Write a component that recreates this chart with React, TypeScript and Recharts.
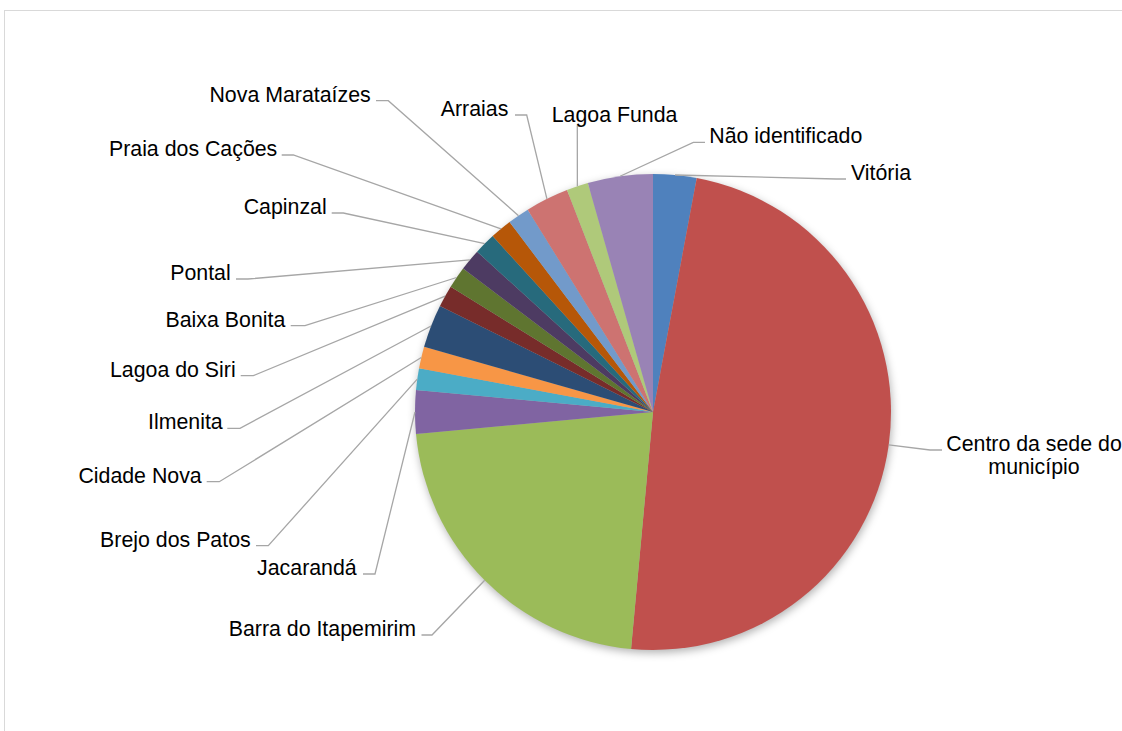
import React from 'react';
import { PieChart, Pie, Cell } from 'recharts';

// ---- data ----
const categories: string[] = [
  'Vitória',
  'Centro da sede do município',
  'Barra do Itapemirim',
  'Jacarandá',
  'Brejo dos Patos',
  'Cidade Nova',
  'Ilmenita',
  'Lagoa do Siri',
  'Baixa Bonita',
  'Pontal',
  'Capinzal',
  'Praia dos Cações',
  'Nova Marataízes',
  'Arraias',
  'Lagoa Funda',
  'Não identificado',
];
const counts: number[] = [2, 33, 15, 2, 1, 1, 2, 1, 1, 1, 1, 1, 1, 2, 1, 3];

// ---- styles ----
const sliceColors: string[] = [
  '#4F81BD', '#C0504D', '#9BBB59', '#8064A2', '#4BACC6', '#F79646',
  '#2C4D75', '#772C2A', '#5F7530', '#4D3B62', '#276A7C', '#B65708',
  '#729ACA', '#CD7371', '#AFC97A', '#9983B5',
];

// ---- label layout (page coordinates of label text and leader elbows) ----
type LabelPos = { anchor: 'start' | 'end' | 'middle'; tx: number; ty: number; ex: number; ey?: number; lx: number; wrap?: boolean };
const labelLayout: LabelPos[] = [
  { anchor: 'start', tx: 851, ty: 180, ex: 836, ey: 179, lx: 846 },
  { anchor: 'middle', tx: 1034, ty: 450.5, ex: 930, ey: 450, lx: 942, wrap: true },
  { anchor: 'end', tx: 416, ty: 636, ex: 432, lx: 421.5 },
  { anchor: 'end', tx: 356.7, ty: 575, ex: 375, lx: 363 },
  { anchor: 'end', tx: 250.7, ty: 546.7, ex: 268.3, lx: 256 },
  { anchor: 'end', tx: 201.7, ty: 482.7, ex: 219.3, lx: 206.7 },
  { anchor: 'end', tx: 222.7, ty: 429.3, ex: 240, lx: 227.3 },
  { anchor: 'end', tx: 235.7, ty: 376.7, ex: 253.3, lx: 240.7 },
  { anchor: 'end', tx: 285.3, ty: 326.7, ex: 305, lx: 290.7 },
  { anchor: 'end', tx: 230.7, ty: 280, ex: 248, lx: 236 },
  { anchor: 'end', tx: 326.7, ty: 214, ex: 343.3, lx: 331.7 },
  { anchor: 'end', tx: 277.3, ty: 156, ex: 293.3, lx: 281.7 },
  { anchor: 'end', tx: 370.7, ty: 101.7, ex: 388.3, lx: 376 },
  { anchor: 'end', tx: 508.3, ty: 116, ex: 526.7, lx: 515 },
  { anchor: 'start', tx: 551.7, ty: 122.3, ex: 577.3, ey: 126, lx: 581 },
  { anchor: 'start', tx: 709.3, ty: 143.3, ex: 693.3, lx: 705 },
];

const chartData = categories.map((name, i) => ({ name, value: counts[i] }));
const shadowData = [{ name: 'shadow', value: 1 }];

const FONT = '"Liberation Sans", Arial, sans-serif';
const RAD = Math.PI / 180;

const renderLabel = (props: any) => {
  const { cx, cy, midAngle, outerRadius, index } = props;
  const sx = cx + outerRadius * Math.cos(-midAngle * RAD);
  const sy = cy + outerRadius * Math.sin(-midAngle * RAD);
  const L = labelLayout[index];
  const name = categories[index];
  const ey = L.ey !== undefined ? L.ey : L.ty - 1;
  let textEl: React.ReactNode;
  if (L.wrap) {
    const words = name.split(' ');
    const first = words.slice(0, -1).join(' ');
    const second = words[words.length - 1];
    textEl = (
      <text x={L.tx} y={L.ty} textAnchor={L.anchor} fontFamily={FONT} fontSize={21.33} fill="#000">
        <tspan x={L.tx}>{first}</tspan>
        <tspan x={L.tx} dy={23.5}>{second}</tspan>
      </text>
    );
  } else {
    textEl = (
      <text x={L.tx} y={L.ty} textAnchor={L.anchor} fontFamily={FONT} fontSize={21.33} fill="#000">
        {name}
      </text>
    );
  }
  return (
    <g key={`lbl-${index}`}>
      <polyline
        points={`${sx},${sy} ${L.ex},${ey} ${L.lx},${ey}`}
        fill="none"
        stroke="#a6a6a6"
        strokeWidth={1.3}
      />
      {textEl}
    </g>
  );
};

export default function App() {
  return (
    <div style={{ position: 'absolute', left: 0, top: 0, width: 1122, height: 731, overflow: 'hidden', background: '#fff' }}>
      <svg width={0} height={0} style={{ position: 'absolute' }}>
        <defs>
          <filter id="pieShadow" x="-20%" y="-20%" width="140%" height="140%">
            <feOffset dx={1} dy={3} />
            <feGaussianBlur stdDeviation={4} />
          </filter>
        </defs>
      </svg>
      <div
        style={{
          position: 'absolute',
          left: 4,
          top: 10,
          width: 1118,
          height: 721,
          borderTop: '1px solid #d9d9d9',
          borderLeft: '1px solid #d9d9d9',
          boxSizing: 'border-box',
        }}
      />
      <div style={{ position: 'absolute', left: 0, top: 0 }}>
        <PieChart width={1122} height={731} margin={{ top: 0, right: 0, bottom: 0, left: 0 }}>
          <Pie
            data={shadowData}
            dataKey="value"
            cx={653}
            cy={412}
            outerRadius={238}
            startAngle={90}
            endAngle={-270}
            stroke="none"
            isAnimationActive={false}
            label={false}
            labelLine={false}
          >
            <Cell fill="#000" fillOpacity={0.3} filter="url(#pieShadow)" />
          </Pie>
          <Pie
            data={chartData}
            dataKey="value"
            nameKey="name"
            cx={653}
            cy={412}
            outerRadius={238}
            startAngle={90}
            endAngle={-270}
            stroke="none"
            isAnimationActive={false}
            labelLine={false}
            label={renderLabel}
          >
            {chartData.map((d, i) => (
              <Cell key={d.name} fill={sliceColors[i]} />
            ))}
          </Pie>
        </PieChart>
      </div>
    </div>
  );
}
